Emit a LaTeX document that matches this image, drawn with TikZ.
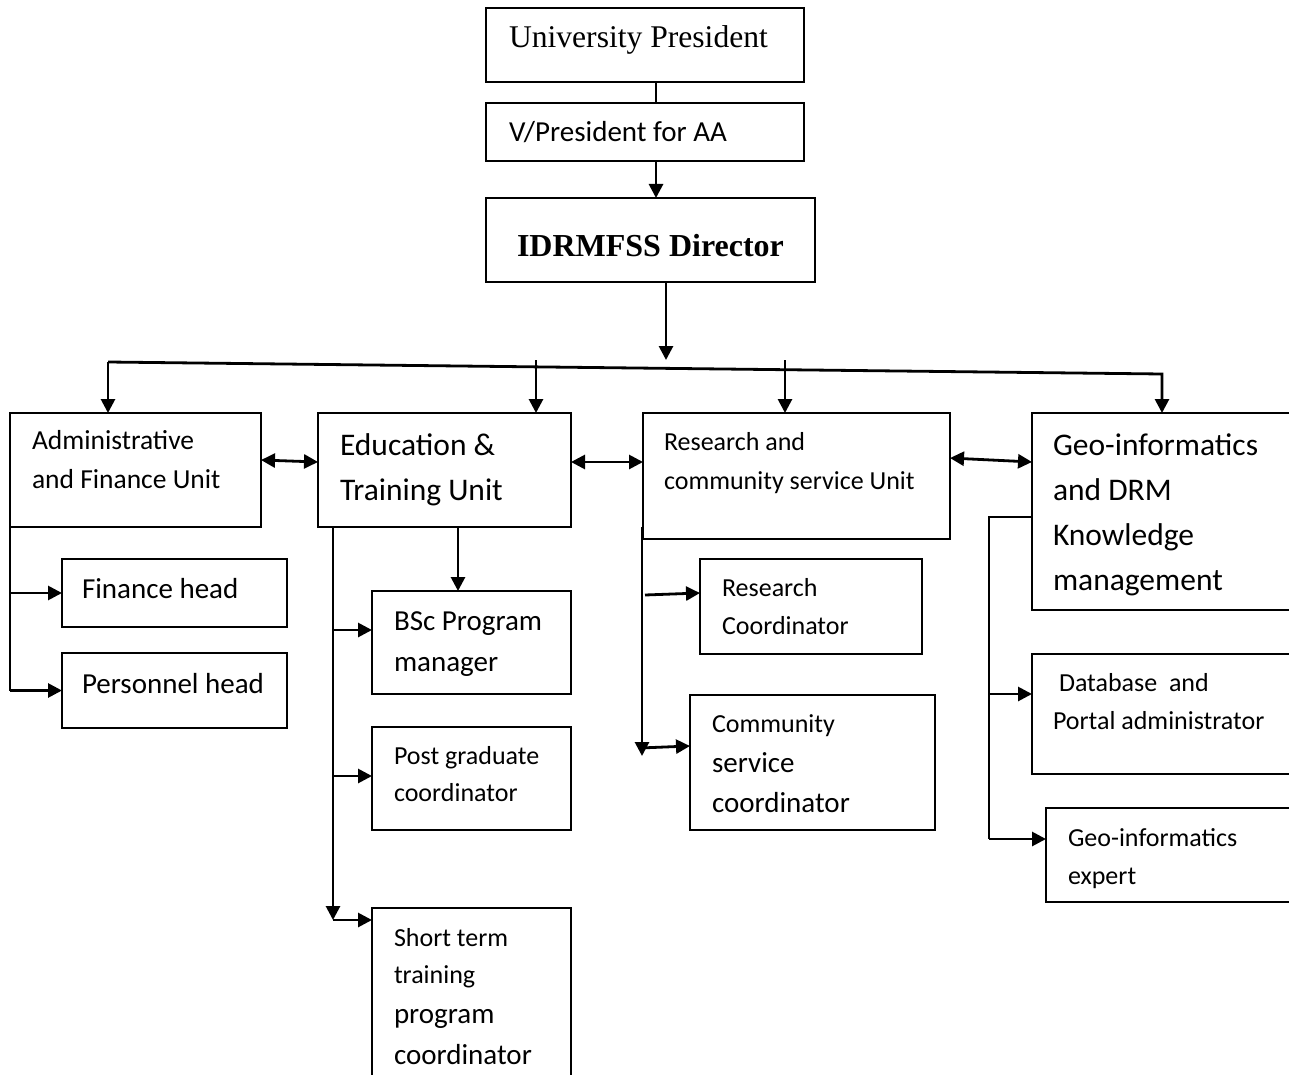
\documentclass[tikz,border=0pt]{standalone}
\usepackage{fontspec}
\setmainfont{Carlito}
\newfontfamily\tnr{Liberation Serif}
\usetikzlibrary{arrows.meta,calc}
\newcommand\fs[2]{\fontsize{#1pt}{#2pt}\selectfont}
\newcommand\boxtext[5]{\parbox[t][#2pt][t]{#1pt}{\raggedright\leftskip=#3pt\rule{0pt}{#4pt}#5}}
\begin{document}
\begin{tikzpicture}[x=1pt,y=-1pt,
  box/.style={draw, line width=2.6pt, inner sep=0pt, outer sep=0pt, anchor=north west},
  conn/.style={line width=2.8pt},
  arr/.style={conn, -{Triangle[length=14pt,width=14pt]}},
  darr/.style={conn, {Triangle[length=14pt,width=14pt]}-{Triangle[length=14pt,width=14pt]}}]
\useasboundingbox (0,0) rectangle (1289,1075);
\clip (0,0) rectangle (1289,1075);
\fill[white] (0,0) rectangle (1289,1075);

% top chain
\node[box] (up)  at (486,8)   {\boxtext{318}{74}{23}{40}{\tnr\fs{31.6}{36}University President}};
\node[box] (vp)  at (486,103) {\boxtext{318}{58}{23}{39}{\fs{29}{34}V/President for AA}};
\node[box] (dir) at (486,198) {\boxtext{329}{84}{31}{58}{\tnr\bfseries\fs{32}{38}IDRMFSS Director}};

% units
\node[box] (adm) at (10,413)   {\boxtext{251}{114}{22}{36}{\fs{27.5}{39}Administrative\\and Finance Unit}};
\node[box] (edu) at (318,413)  {\boxtext{253}{114}{22}{42}{\fs{31.5}{45}Education \&\\Training Unit}};
\node[box] (res) at (643,413)  {\boxtext{307}{126}{21}{37}{\fs{26}{39}Research and\\community service Unit}};
\node[box] (geo) at (1032,413) {\boxtext{263}{197}{21}{42}{\fs{31.5}{45}Geo-informatics\\and DRM\\Knowledge\\management}};

% admin children
\node[box] (fin) at (62,559) {\boxtext{225}{68}{20}{39}{\fs{29}{34}Finance head}};
\node[box] (per) at (62,653) {\boxtext{225}{75}{20}{40}{\fs{29}{34}Personnel head}};

% education children
\node[box] (bsc) at (372,591) {\boxtext{199}{103}{22}{39}{\fs{29}{41}BSc Program\\manager}};
\node[box] (pg)  at (372,727) {\boxtext{199}{103}{22}{37}{\fs{26}{37}Post graduate\\coordinator}};
\node[box] (sht) at (372,908) {\boxtext{199}{177}{22}{38}{\fs{26}{37}Short term\par training\par\fs{29}{40}program\par\fs{29}{41}coordinator}};

% research children
\node[box] (rc)  at (700,559) {\boxtext{222}{95}{22}{37}{\fs{26}{38}Research\\Coordinator}};
\node[box] (com) at (690,695) {\boxtext{245}{135}{22}{37}{\fs{26}{40}Community\par\fs{29}{40}service\par coordinator}};

% geo children
\node[box] (db) at (1032,654) {\boxtext{263}{120}{21}{37}{\fs{26}{38}\hspace*{6pt}Database\ \ and\\Portal administrator}};
\node[box] (gx) at (1046,808) {\boxtext{249}{94}{22}{38}{\fs{26}{38}Geo-informatics\\expert}};

% connectors top chain
\draw[conn] ($(up.south west)+(170,0)$) -- ($(vp.north west)+(170,0)$);
\draw[arr]  ($(vp.south west)+(170,0)$) -- ($(dir.north west)+(170,0)$);
\draw[arr]  ($(dir.south west)+(180,0)$) -- ($(dir.south west)+(180,78)$);

% bus
\coordinate (busL) at (108,362);
\coordinate (busR) at (1162,374);
\draw[arr] (busL) -- (busR) -- (busR |- geo.north);
\draw[arr] (busL) -- (busL |- adm.north);
\draw[arr] ($(edu.north west)+(218,-53)$) -- ($(edu.north west)+(218,0)$);
\draw[arr] ($(res.north west)+(142,-53)$) -- ($(res.north west)+(142,0)$);

% lateral double arrows
\draw[darr] ($(adm.north east)+(0,47)$) -- ($(edu.north west)+(0,49)$);
\draw[darr] ($(edu.north east)+(0,49)$) -- ($(res.north west)+(0,49)$);
\draw[darr] ($(res.north east)+(0,45)$) -- ($(geo.north west)+(0,49)$);

% admin tree
\draw[conn] (adm.south west) -- (adm.south west |- per.west);
\draw[arr] (adm.south west |- fin.west) -- (fin.west);
\draw[arr] (adm.south west |- per.west) -- (per.west);

% education tree
\coordinate (eduL) at ($(edu.south west)+(15,0)$);
\coordinate (shtIn) at ($(sht.north west)+(0,12)$);
\coordinate (bscIn) at ($(bsc.north west)+(0,39)$);
\coordinate (pgIn) at ($(pg.north west)+(0,49)$);
\draw[arr] (eduL) -- (eduL |- shtIn);
\draw[arr] (eduL |- shtIn) -- (shtIn);
\draw[arr] (eduL |- bscIn) -- (bscIn);
\draw[arr] (eduL |- pgIn) -- (pgIn);
\draw[arr] ($(edu.south west)+(140,0)$) -- ($(bsc.north west)+(86,0)$);

% research tree
\coordinate (resL) at ($(res.south west)+(-1,-12)$);
\coordinate (rcIn) at ($(rc.north west)+(0,34)$);
\coordinate (comIn) at ($(com.north west)+(0,51)$);
\draw[arr] (resL) -- ($(resL |- comIn)+(0,10)$);
\draw[arr] ($(resL |- rcIn)+(3,2)$) -- (rcIn);
\draw[arr] ($(resL |- comIn)+(-2,2)$) -- (comIn);

% geo tree
\coordinate (geoOut) at ($(geo.north west)+(0,104)$);
\coordinate (geoL) at ($(geoOut)+(-43,0)$);
\coordinate (dbIn) at ($(db.north west)+(0,40)$);
\coordinate (gxIn) at ($(gx.north west)+(0,31)$);
\draw[conn] (geoOut) -- (geoL) -- (geoL |- gxIn);
\draw[arr] (geoL |- dbIn) -- (dbIn);
\draw[arr] (geoL |- gxIn) -- (gxIn);
\end{tikzpicture}
\end{document}
